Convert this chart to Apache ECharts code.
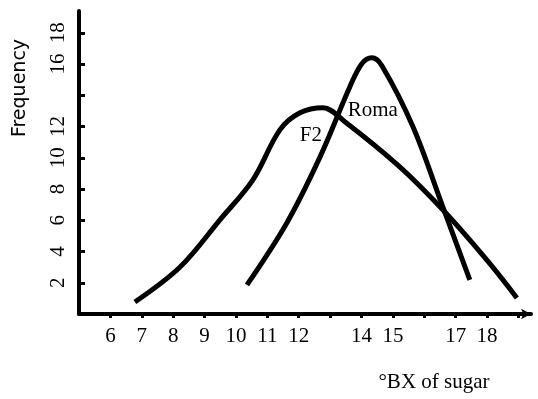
<!DOCTYPE html>
<html>
<head>
<meta charset="utf-8">
<script src="https://cdn.jsdelivr.net/npm/echarts@6/dist/echarts.min.js"></script>
<style>
  html, body { margin: 0; padding: 0; background: #fff; }
  #chart { width: 538px; height: 399px; }
</style>
</head>
<body>
<div id="chart"></div>
<script>
// °BX of sugar vs frequency
const f2X = [6.78, 8.22, 9.49, 10.54, 11.40, 12.04, 12.77, 13.47, 15.22, 16.59, 17.99, 18.95];
const f2Y = [0.77, 3.01, 6.03, 8.59, 11.79, 12.88, 13.21, 12.31, 9.42, 6.67, 3.46, 1.03];

const romaX = [10.35, 11.62, 12.68, 13.63, 14.01, 14.33, 14.65, 15.64, 16.59, 17.45];
const romaY = [1.86, 5.83, 10.06, 14.55, 16.03, 16.41, 15.90, 11.99, 6.86, 2.18];

const xTicks = [6, 7, 8, 9, 10, 11, 12, 13, 14, 15, 16, 17, 18, 19];
const xLabels = [6, 7, 8, 9, 10, 11, 12, 14, 15, 17, 18];
const yTicks = [2, 4, 6, 8, 10, 12, 14, 16, 18];
const yLabels = [2, 4, 6, 8, 10, 12, 16, 18];

const seriesNames = ['F2', 'Roma'];
const nameAt = [[12.39, 11.4], [14.36, 13.0]];

const zip = (xs, ys) => xs.map((x, i) => [x, ys[i]]);

const chart = echarts.init(document.getElementById('chart'));

const labelFont = {
  color: '#000',
  fontFamily: 'Liberation Serif',
  fontSize: 21
};

function curve(name, data, at) {
  return {
    name: name,
    type: 'line',
    data: data,
    smooth: 0.35,
    symbol: 'none',
    lineStyle: { color: '#000', width: 5 },
    markPoint: {
      symbol: 'circle',
      symbolSize: 1,
      itemStyle: { color: 'rgba(0,0,0,0)' },
      label: {
        show: true,
        position: 'inside',
        formatter: name,
        color: '#000',
        fontFamily: 'Liberation Serif',
        fontSize: 21
      },
      data: [{ coord: at }]
    }
  };
}

chart.setOption({
  animation: false,
  backgroundColor: '#fff',
  grid: { left: 79, right: 7, top: 11, bottom: 85 },
  xAxis: {
    type: 'value',
    min: 5,
    max: 19.4,
    splitLine: { show: false },
    axisLine: {
      lineStyle: { color: '#000', width: 4 },
      symbol: ['none', 'arrow'],
      symbolSize: [8, 10]
    },
    axisTick: {
      customValues: xTicks,
      length: 4,
      lineStyle: { color: '#000', width: 3 }
    },
    axisLabel: Object.assign({ customValues: xLabels, margin: 12 }, labelFont)
  },
  yAxis: {
    type: 'value',
    min: 0,
    max: 19.4,
    splitLine: { show: false },
    axisLine: { lineStyle: { color: '#000', width: 4 } },
    axisTick: {
      customValues: yTicks,
      inside: true,
      length: 6,
      lineStyle: { color: '#000', width: 3 }
    },
    axisLabel: Object.assign({ customValues: yLabels, rotate: 90, margin: 10 }, labelFont)
  },
  series: [
    curve(seriesNames[0], zip(f2X, f2Y), nameAt[0]),
    curve(seriesNames[1], zip(romaX, romaY), nameAt[1])
  ],
  graphic: [
    {
      type: 'text',
      x: 20,
      y: 88,
      rotation: Math.PI / 2,
      style: {
        text: 'Frequency',
        fill: '#000',
        font: '19px "DejaVu Sans"',
        align: 'center',
        verticalAlign: 'middle'
      }
    },
    {
      type: 'text',
      x: 434,
      y: 382,
      style: {
        text: '°BX of sugar',
        fill: '#000',
        font: '21px "Liberation Serif"',
        align: 'center',
        verticalAlign: 'middle'
      }
    }
  ]
});
</script>
</body>
</html>
